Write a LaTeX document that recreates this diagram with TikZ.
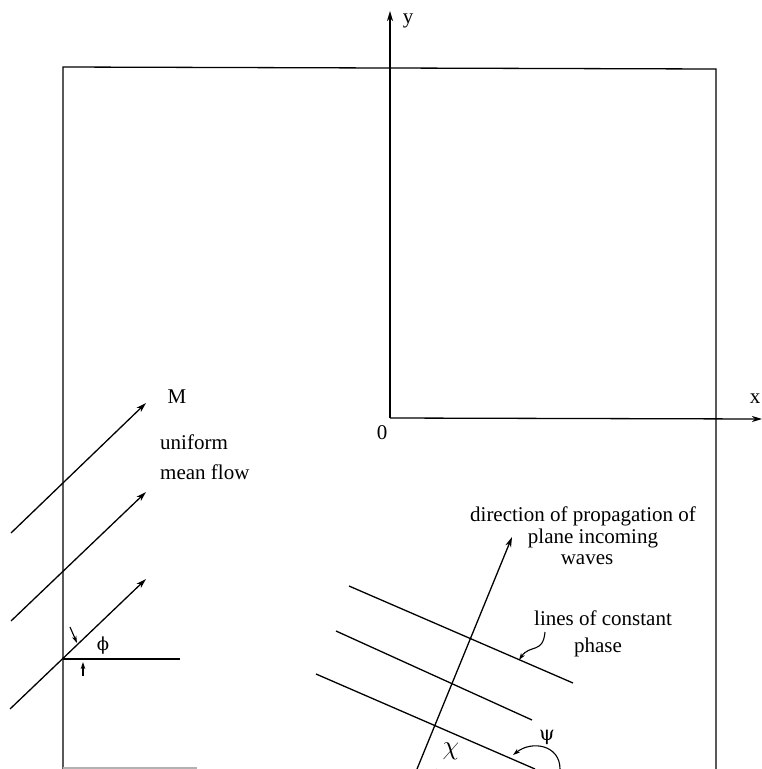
\documentclass[tikz,border=0pt]{standalone}
\usepackage{fontspec}
\setmainfont{Liberation Serif}
\newfontfamily\grk{DejaVu Serif}
\usetikzlibrary{arrows.meta}
\begin{document}
\begin{tikzpicture}[x=1pt,y=-1pt,
  line/.style={line width=1.3pt},
  arr/.style={line width=1.3pt,-{Stealth[length=10pt,width=6pt,inset=3pt]}},
  smallarr/.style={line width=1.1pt,-{Stealth[length=7pt,width=4.5pt,inset=2pt]}},
  lbl/.style={inner sep=0pt,font=\fontsize{21}{21}\selectfont}]
\useasboundingbox (0,0) rectangle (762,769);
% frame
\coordinate (bl) at (63,769);
\coordinate (tl) at (63,67);
\coordinate (tr) at (716,69);
\coordinate (br) at (716,769);
\draw[line] (bl) -- (tl) -- (tr) -- (br);
\coordinate (bb1) at (63,768);
\coordinate (bb2) at (197,768);
\draw[line width=1.2pt,gray!60] (bb1) -- (bb2);
% axes
\coordinate (O) at (390,418);
\coordinate (ytip) at (390,11);
\coordinate (xtip) at (762,419);
\draw[arr] (O) -- (ytip);
\draw[arr] (O) -- (xtip);
\node[lbl] (ylab) at (408,21) {y};
\node[lbl] (xlab) at (755,399) {x};
\node[lbl] (zero) at (382,433) {0};
% mean flow arrows
\coordinate (f1s) at (11,533); \coordinate (f1e) at (146,403);
\coordinate (f2s) at (11,621); \coordinate (f2e) at (146,492);
\coordinate (f3s) at (10,709); \coordinate (f3e) at (146,579);
\draw[arr] (f1s) -- (f1e);
\draw[arr] (f2s) -- (f2e);
\draw[arr] (f3s) -- (f3e);
\node[lbl] (M) at (177,397) {M};
\node[lbl,anchor=west] (unif) at (160,442) {uniform};
\node[lbl,anchor=west] (mean) at (160,472) {mean flow};
% phi
\coordinate (p0) at (63,659);
\coordinate (p1) at (180,659);
\draw[line] (p0) -- (p1);
\coordinate (a1s) at (70,627); \coordinate (a1e) at (77,643);
\coordinate (a2s) at (83,676); \coordinate (a2e) at (83,662);
\draw[smallarr] (a1s) -- (a1e);
\draw[smallarr] (a2s) -- (a2e);
\node[lbl,font=\grk\fontsize{18}{18}\selectfont] (phi) at (103,646) {ϕ};
% propagation arrow
\coordinate (ps) at (417,769);
\coordinate (pe) at (512,537);
\draw[arr] (ps) -- (pe);
% lines of constant phase
\coordinate (la1) at (349,586); \coordinate (la2) at (573,683);
\coordinate (lb1) at (336,631); \coordinate (lb2) at (532,720);
\coordinate (lc1) at (316,674); \coordinate (lc2) at (535,769);
\draw[line] (la1) -- (la2);
\draw[line] (lb1) -- (lb2);
\draw[line] (lc1) -- (lc2);
% labels right
\node[lbl] (dir1) at (583,516) {direction of propagation of};
\node[lbl] (dir2) at (593,538) {plane incoming};
\node[lbl] (dir3) at (587,560) {waves};
\node[lbl] (lc1t) at (603,618) {lines of constant};
\node[lbl] (lc2t) at (598,647) {phase};
% squiggle pointer
\coordinate (sq1) at (545,632);
\coordinate (sq2) at (519,660);
\draw[smallarr] (sq1) .. controls (543,654) and (530,644) .. (sq2);
% chi
\draw[line width=1.1pt] (ps) ++(68:20) arc[start angle=68,end angle=0,radius=20];
\node[lbl] (chi) at (451,751) {\scalebox{1.3}{$\chi$}};
% psi
\coordinate (ps1) at (560,769);
\coordinate (ps2) at (513,755);
\draw[smallarr] (ps1) .. controls (560,745) and (532,740) .. (ps2);
\node[lbl,font=\grk\fontsize{20}{20}\selectfont] (psi) at (547,737) {ψ};
\end{tikzpicture}
\end{document}
